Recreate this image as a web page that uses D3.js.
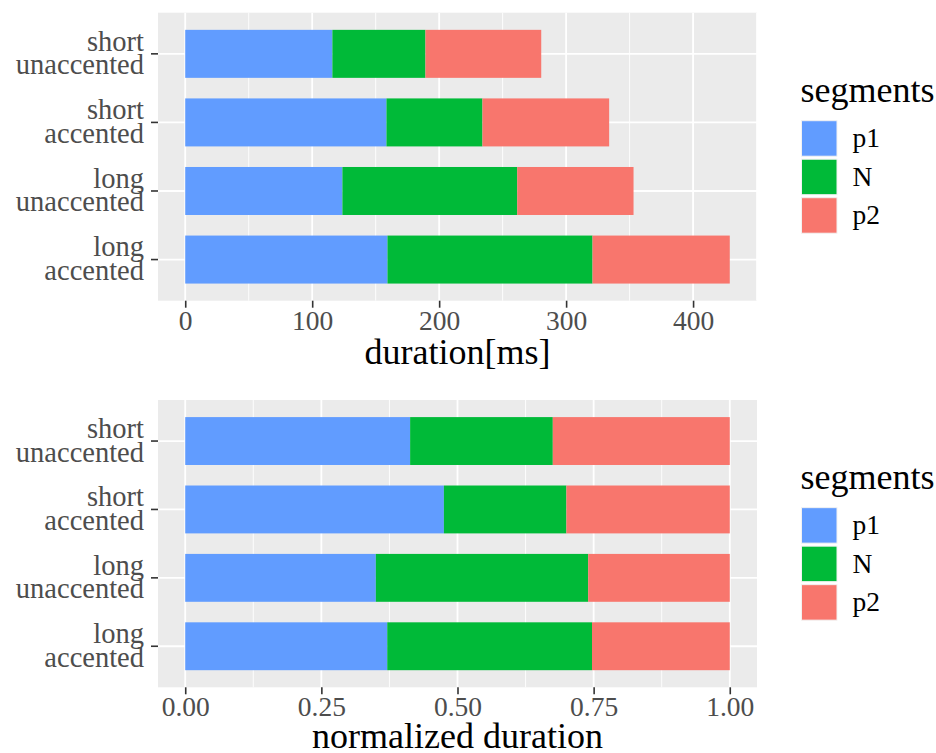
<!DOCTYPE html>
<html>
<head>
<meta charset="utf-8">
<script src="https://cdn.jsdelivr.net/npm/d3@7"></script>
<style>
  html, body { margin: 0; padding: 0; background: #ffffff; }
  svg { display: block; }
  svg text { font-family: "Liberation Serif", "Times New Roman", serif; }
</style>
</head>
<body>
<svg id="chart" width="936" height="753"></svg>
<script>
// Word conditions, listed top to bottom
const categories = ["short unaccented", "short accented", "long unaccented", "long accented"];
const segments = ["p1", "N", "p2"];
const segmentColors = ["#619CFF", "#00BA38", "#F8766D"];

// Mean segment durations in milliseconds
const p1Ms = [115.9, 158.5, 123.8, 159.3];
const nMs  = [73.3, 75.6, 137.7, 161.5];
const p2Ms = [91.2, 99.8, 91.6, 108.1];

// Mean segment proportions of the whole word
const p1Norm = [0.413, 0.475, 0.350, 0.371];
const nNorm  = [0.262, 0.225, 0.390, 0.376];
const p2Norm = [0.325, 0.300, 0.260, 0.253];

const msTicks = [0, 100, 200, 300, 400];
const msMinorTicks = [50, 150, 250, 350, 450];
const normTicks = [0, 0.25, 0.5, 0.75, 1];
const normTickLabels = ["0.00", "0.25", "0.50", "0.75", "1.00"];
const normMinorTicks = [0.125, 0.375, 0.625, 0.875];

const svg = d3.select("#chart");

const panelLeft = 158, panelRight = 757;
const tickColor = "#333333";
const labelColor = "#4D4D4D";
const serif = "'Liberation Serif', 'Times New Roman', serif";

function drawPanel(opts) {
  const { top, bottom, rows, ticks, tickLabels, minorTicks, xMax, title } = opts;

  const rowsData = categories.map((c, i) => ({ cat: c, p1: rows[0][i], N: rows[1][i], p2: rows[2][i] }));
  const stacked = d3.stack().keys(segments)(rowsData);

  const x = d3.scaleLinear()
    .domain([-0.05 * xMax, 1.05 * xMax])
    .range([panelLeft, panelRight]);
  const y = d3.scaleBand()
    .domain(categories)
    .range([top, bottom])
    .paddingInner(0.3)
    .paddingOuter(0.25);

  const g = svg.append("g");

  // panel background
  g.append("rect")
    .attr("x", panelLeft).attr("y", top)
    .attr("width", panelRight - panelLeft).attr("height", bottom - top)
    .attr("fill", "#EBEBEB");

  // minor grid
  g.append("g").selectAll("line").data(minorTicks.filter(t => x(t) <= panelRight)).join("line")
    .attr("x1", d => x(d)).attr("x2", d => x(d))
    .attr("y1", top).attr("y2", bottom)
    .attr("stroke", "#ffffff").attr("stroke-width", 0.9);

  // major grid
  g.append("g").selectAll("line").data(ticks).join("line")
    .attr("x1", d => x(d)).attr("x2", d => x(d))
    .attr("y1", top).attr("y2", bottom)
    .attr("stroke", "#ffffff").attr("stroke-width", 1.8);
  g.append("g").selectAll("line").data(categories).join("line")
    .attr("x1", panelLeft).attr("x2", panelRight)
    .attr("y1", d => y(d) + y.bandwidth() / 2).attr("y2", d => y(d) + y.bandwidth() / 2)
    .attr("stroke", "#ffffff").attr("stroke-width", 1.8);

  // stacked bars
  g.append("g").selectAll("g").data(stacked).join("g")
    .attr("fill", (d, i) => segmentColors[i])
    .selectAll("rect").data(d => d).join("rect")
    .attr("x", d => x(d[0]))
    .attr("width", d => x(d[1]) - x(d[0]))
    .attr("y", d => y(d.data.cat))
    .attr("height", y.bandwidth());

  // x axis
  const xAxis = d3.axisBottom(x)
    .tickValues(ticks)
    .tickSize(7)
    .tickPadding(4)
    .tickFormat((d, i) => tickLabels[i]);
  const xg = g.append("g")
    .attr("transform", `translate(0,${bottom})`)
    .call(xAxis)
    .attr("font-family", serif);
  xg.select(".domain").remove();
  xg.selectAll(".tick line").attr("stroke", tickColor).attr("stroke-width", 1.6);
  xg.selectAll(".tick text")
    .attr("y", 29).attr("dy", null)
    .attr("fill", labelColor)
    .style("font-size", "27.5px");

  // y axis with two-line labels
  const yAxis = d3.axisLeft(y).tickSize(7).tickFormat("");
  const yg = g.append("g")
    .attr("transform", `translate(${panelLeft},0)`)
    .call(yAxis)
    .attr("font-family", serif);
  yg.select(".domain").remove();
  yg.selectAll(".tick line").attr("stroke", tickColor).attr("stroke-width", 1.6);
  yg.selectAll(".tick text").remove();
  yg.selectAll(".tick").each(function (d) {
    const words = d.split(" ");
    const t = d3.select(this).append("text")
      .attr("text-anchor", "end")
      .attr("fill", labelColor)
      .style("font-family", serif)
      .style("font-size", "28.5px");
    t.append("tspan").attr("x", -14).attr("y", -3.3).text(words[0]);
    t.append("tspan").attr("x", -14).attr("y", 20.5).text(words[1]);
  });

  // axis title
  g.append("text")
    .attr("x", (panelLeft + panelRight) / 2)
    .attr("y", opts.titleY)
    .attr("text-anchor", "middle")
    .attr("fill", "#000000")
    .style("font-size", "36px")
    .text(title);

  // legend
  const mid = (top + bottom) / 2;
  const lg = g.append("g");
  lg.append("text")
    .attr("x", 800.5).attr("y", mid - 55)
    .attr("fill", "#000000")
    .style("font-size", "36px")
    .text("segments");
  const keyTop = mid - 36, keySize = 35.5, keyStep = 38.5;
  const keys = lg.selectAll("g.key").data(segments).join("g").attr("class", "key");
  keys.append("rect")
    .attr("x", 801.5)
    .attr("y", (d, i) => keyTop + i * keyStep)
    .attr("width", keySize).attr("height", keySize)
    .attr("fill", (d, i) => segmentColors[i])
    .attr("stroke", "#F2F2F2").attr("stroke-width", 1);
  keys.append("text")
    .attr("x", 852.5)
    .attr("y", (d, i) => keyTop + i * keyStep + keySize / 2 + 9)
    .attr("fill", "#000000")
    .style("font-size", "27.5px")
    .text(d => d);
}

const msTotals = categories.map((c, i) => p1Ms[i] + nMs[i] + p2Ms[i]);

drawPanel({
  top: 12.7, bottom: 300.7,
  rows: [p1Ms, nMs, p2Ms],
  ticks: msTicks, tickLabels: msTicks.map(String), minorTicks: msMinorTicks,
  xMax: d3.max(msTotals),
  title: "duration[ms]", titleY: 363.5
});

drawPanel({
  top: 400, bottom: 687.3,
  rows: [p1Norm, nNorm, p2Norm],
  ticks: normTicks, tickLabels: normTickLabels, minorTicks: normMinorTicks,
  xMax: 1,
  title: "normalized duration", titleY: 748
});
</script>
</body>
</html>
